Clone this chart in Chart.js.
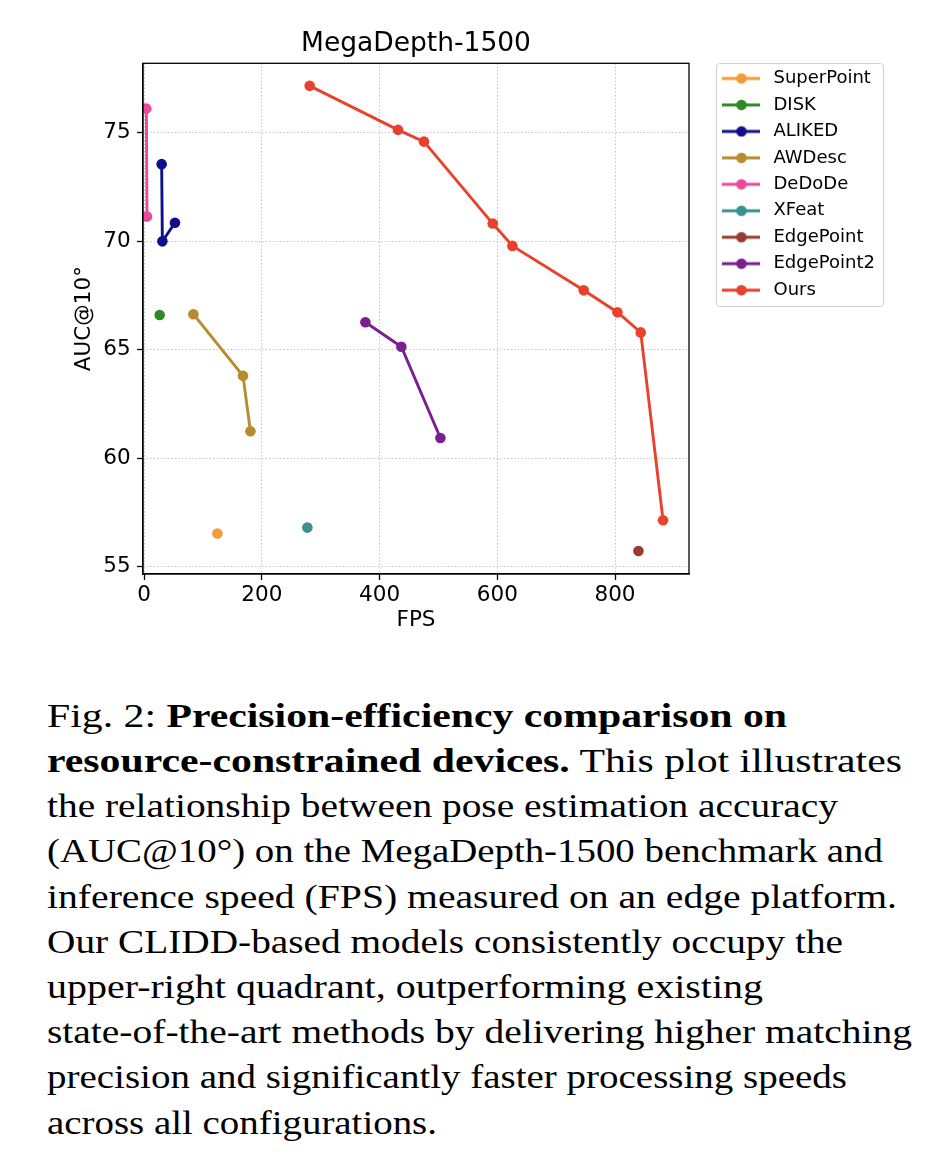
<!DOCTYPE html>
<html>
<head>
<meta charset="utf-8">
<script src="https://cdn.jsdelivr.net/npm/chart.js@4.4.0/dist/chart.umd.min.js"></script>
<style>
html,body{margin:0;padding:0;background:#fff;}
body{width:946px;height:1174px;position:relative;overflow:hidden;}
#wrap{position:absolute;left:0;top:0;width:946px;height:660px;}
.cap{position:absolute;left:47px;top:0;white-space:nowrap;font-family:"Liberation Serif","Times New Roman",serif;font-size:34px;line-height:40px;color:#000;transform-origin:0 0;}
.cap b{font-weight:bold;}
.bl{display:inline-block;width:0;height:0;vertical-align:baseline;}
</style>
</head>
<body>
<div id="wrap"><canvas id="c" width="946" height="660"></canvas></div>
<script>
// ---------- data ----------
const SERIES = ['SuperPoint','DISK','ALIKED','AWDesc','DeDoDe','XFeat','EdgePoint','EdgePoint2','Ours'];
const COLORS = ['#f39b36','#2f8a25','#10108c','#b88b2e','#ea4a9c','#3a8f8f','#9b3b2f','#7b1e8e','#e9412b'];

const superpoint_fps = [124.4];
const superpoint_auc = [56.53];
const disk_fps = [26.3];
const disk_auc = [66.60];
const aliked_fps = [29.7, 30.9, 52.3];
const aliked_auc = [73.56, 70.00, 70.86];
const awdesc_fps = [83.6, 167.9, 180.5];
const awdesc_auc = [66.64, 63.80, 61.24];
const dedode_fps = [3.7, 4.8];
const dedode_auc = [76.12, 71.14];
const xfeat_fps = [277.3];
const xfeat_auc = [56.80];
const edgepoint_fps = [839.8];
const edgepoint_auc = [55.72];
const edgepoint2_fps = [375.9, 437.0, 503.3];
const edgepoint2_auc = [66.27, 65.14, 60.93];
const ours_fps = [281.2, 431.3, 475.4, 592.2, 625.7, 746.8, 804.1, 843.7, 881.6];
const ours_auc = [77.17, 75.14, 74.60, 70.82, 69.79, 67.74, 66.73, 65.80, 57.14];

const X_TICKS = [0, 200, 400, 600, 800];
const Y_TICKS = [55, 60, 65, 70, 75];

const FPS = [superpoint_fps, disk_fps, aliked_fps, awdesc_fps, dedode_fps, xfeat_fps, edgepoint_fps, edgepoint2_fps, ours_fps];
const AUC = [superpoint_auc, disk_auc, aliked_auc, awdesc_auc, dedode_auc, xfeat_auc, edgepoint_auc, edgepoint2_auc, ours_auc];

// ---------- style ----------
const LINE_W = 2.9, PT_R = 5.3;
const FONT = "'DejaVu Sans', sans-serif";
Chart.defaults.font.family = FONT;
Chart.defaults.color = '#000';

function makeMarker(color){
  const cv = document.createElement('canvas');
  cv.width = 38; cv.height = 12;
  const g = cv.getContext('2d');
  g.strokeStyle = color; g.lineWidth = LINE_W;
  g.beginPath(); g.moveTo(0, 6); g.lineTo(38, 6); g.stroke();
  g.fillStyle = color; g.beginPath(); g.arc(19, 6, PT_R, 0, Math.PI*2); g.fill();
  return cv;
}
const MARKERS = COLORS.map(makeMarker);

const datasets = SERIES.map((name, i) => ({
  label: name,
  data: FPS[i].map((x, j) => ({x: x, y: AUC[i][j]})),
  showLine: true,
  borderColor: COLORS[i],
  backgroundColor: COLORS[i],
  pointBackgroundColor: COLORS[i],
  pointBorderWidth: 0,
  borderWidth: LINE_W,
  pointRadius: PT_R,
  pointHoverRadius: PT_R,
  tension: 0
}));

const LEG_X = 710, LEG_Y = 61;
const framePlugin = {
  id: 'frames',
  afterLayout(chart){
    const lg = chart.legend; if (!lg) return;
    const w = lg.width, h = lg.height;
    lg.left = LEG_X; lg.top = LEG_Y; lg.right = LEG_X + w; lg.bottom = LEG_Y + h;
  },
  afterDraw(chart){
    const {ctx, chartArea: a} = chart;
    ctx.save();
    ctx.strokeStyle = '#000'; ctx.lineWidth = 1.3;
    ctx.strokeRect(a.left, a.top, a.right - a.left, a.bottom - a.top);
    // legend frame
    ctx.strokeStyle = '#cfcfcf'; ctx.lineWidth = 1;
    const x0 = 716.5, y0 = 63.5, x1 = 883.5, y1 = 306.5, r = 3;
    ctx.beginPath();
    ctx.moveTo(x0 + r, y0); ctx.lineTo(x1 - r, y0); ctx.arcTo(x1, y0, x1, y0 + r, r);
    ctx.lineTo(x1, y1 - r); ctx.arcTo(x1, y1, x1 - r, y1, r);
    ctx.lineTo(x0 + r, y1); ctx.arcTo(x0, y1, x0, y1 - r, r);
    ctx.lineTo(x0, y0 + r); ctx.arcTo(x0, y0, x0 + r, y0, r);
    ctx.closePath(); ctx.stroke();
    ctx.restore();
  }
};

const tickFont = {family: FONT, size: 21.5};
new Chart(document.getElementById('c'), {
  type: 'scatter',
  data: {datasets},
  options: {
    responsive: false,
    animation: false,
    layout: {padding: {left: 0, right: 257, top: 0, bottom: 0}},
    plugins: {
      title: {display: true, text: 'MegaDepth-1500', fullSize: false, color: '#000',
              font: {family: FONT, size: 26.5, weight: 'normal'}, padding: {top: 28, bottom: 3.5}},
      legend: {
        position: 'chartArea', align: 'start',
        labels: {
          usePointStyle: true, pointStyleWidth: 46, padding: 8.46, color: '#000',
          font: {family: FONT, size: 18},
          generateLabels(chart){
            const items = Chart.defaults.plugins.legend.labels.generateLabels(chart);
            items.forEach(it => { it.pointStyle = MARKERS[it.datasetIndex]; });
            return items;
          }
        }
      },
      tooltip: {enabled: false}
    },
    scales: {
      x: {
        type: 'linear', min: -2, max: 925.7,
        afterBuildTicks(s){ s.ticks = X_TICKS.map(v => ({value: v})); },
        afterFit(s){ s.height = 86; },
        ticks: {font: tickFont, color: '#000', padding: 3, maxRotation: 0},
        grid: {color: '#bcbcbc', lineWidth: 1, tickColor: '#000', tickLength: 6, tickWidth: 1.3},
        border: {display: true, color: '#000', width: 1.3, dash: [1.3, 2.2]},
        title: {display: true, text: 'FPS', color: '#000', font: tickFont, padding: {top: 0, bottom: 26.6}}
      },
      y: {
        type: 'linear', min: 54.66, max: 78.21,
        afterBuildTicks(s){ s.ticks = Y_TICKS.map(v => ({value: v})); },
        afterFit(s){ s.width = 143; },
        ticks: {font: tickFont, color: '#000', padding: 6.3},
        grid: {color: '#bcbcbc', lineWidth: 1, tickColor: '#000', tickLength: 6, tickWidth: 1.3},
        border: {display: true, color: '#000', width: 1.3, dash: [1.3, 2.2]},
        title: {display: true, text: 'AUC@10°', color: '#000', font: tickFont, padding: {top: 72, bottom: 0}}
      }
    }
  },
  plugins: [framePlugin]
});

// ---------- caption ----------
const CAPTION = [
  'Fig. 2: <b>Precision-efficiency comparison on</b>',
  '<b>resource-constrained devices.</b> This plot illustrates',
  'the relationship between pose estimation accuracy',
  '(AUC@10°) on the MegaDepth-1500 benchmark and',
  'inference speed (FPS) measured on an edge platform.',
  'Our CLIDD-based models consistently occupy the',
  'upper-right quadrant, outperforming existing',
  'state-of-the-art methods by delivering higher matching',
  'precision and significantly faster processing speeds',
  'across all configurations.'
];
const CAP_RIGHT = [787, 902, 838, 883, 897, 843, 763, 912, 847, 437];
const CAP_LEFT = 47, CAP_BASE0 = 726.7, CAP_STEP = 45.2;
CAPTION.forEach((html, i) => {
  const d = document.createElement('div');
  d.className = 'cap';
  d.innerHTML = html + '<span class="bl"></span>';
  document.body.appendChild(d);
  const r = d.getBoundingClientRect();
  const bl = d.querySelector('.bl').getBoundingClientRect().top - r.top;
  d.style.top = (CAP_BASE0 + CAP_STEP * i - bl) + 'px';
  d.style.transform = 'scaleX(' + ((CAP_RIGHT[i] - CAP_LEFT) / r.width) + ')';
});
</script>
</body>
</html>
